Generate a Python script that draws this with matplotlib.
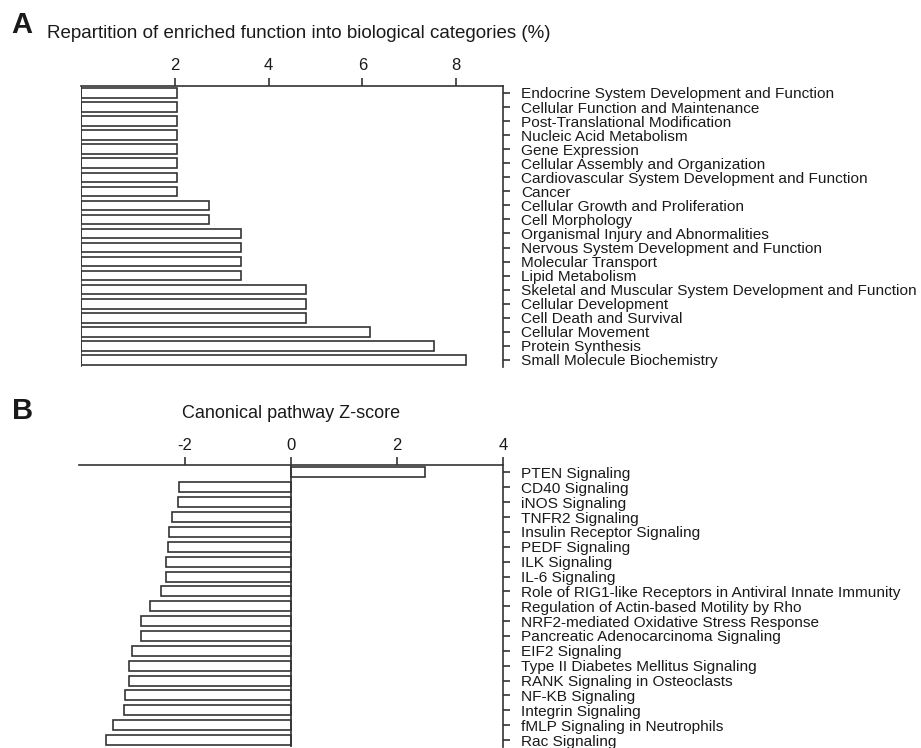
import numpy as np
import matplotlib.pyplot as plt

plt.rcParams['font.family'] = ['Liberation Sans', 'DejaVu Sans']

# ------------------------ data

cat_labels = [
    'Endocrine System Development and Function',
    'Cellular Function and Maintenance',
    'Post-Translational Modification',
    'Nucleic Acid Metabolism',
    'Gene Expression',
    'Cellular Assembly and Organization',
    'Cardiovascular System Development and Function',
    'Cancer',
    'Cellular Growth and Proliferation',
    'Cell Morphology',
    'Organismal Injury and Abnormalities',
    'Nervous System Development and Function',
    'Molecular Transport',
    'Lipid Metabolism',
    'Skeletal and Muscular System Development and Function',
    'Cellular Development',
    'Cell Death and Survival',
    'Cellular Movement',
    'Protein Synthesis',
    'Small Molecule Biochemistry',
]
cat_percent = [2.05, 2.05, 2.05, 2.05, 2.05, 2.05, 2.05, 2.05,
               2.74, 2.74, 3.42, 3.42, 3.42, 3.42,
               4.79, 4.79, 4.79, 6.16, 7.53, 8.22]
cat_ticks = [2, 4, 6, 8]

path_labels = [
    'PTEN Signaling',
    'CD40 Signaling',
    'iNOS Signaling',
    'TNFR2 Signaling',
    'Insulin Receptor Signaling',
    'PEDF Signaling',
    'ILK Signaling',
    'IL-6 Signaling',
    'Role of RIG1-like Receptors in Antiviral Innate Immunity',
    'Regulation of Actin-based Motility by Rho',
    'NRF2-mediated Oxidative Stress Response',
    'Pancreatic Adenocarcinoma Signaling',
    'EIF2 Signaling',
    'Type II Diabetes Mellitus Signaling',
    'RANK Signaling in Osteoclasts',
    'NF-KB Signaling',
    'Integrin Signaling',
    'fMLP Signaling in Neutrophils',
    'Rac Signaling',
]
path_z = [2.53, -2.11, -2.14, -2.24, -2.31, -2.33, -2.36, -2.36, -2.45,
          -2.67, -2.83, -2.84, -3.00, -3.05, -3.05, -3.13, -3.16, -3.36, -3.50]
path_ticks = [-2, 0, 2, 4]

# ------------------------ style

ink = '#333333'
txt = '#1a1a1a'
lw = 1.2


def style_axes(ax, labels, xlim, ticks):
    n = len(labels)
    ax.set_xlim(*xlim)
    ax.set_ylim(n - 0.5, -0.5)
    ax.axvline(0, color=ink, lw=lw, zorder=3)
    for s in ['left', 'bottom']:
        ax.spines[s].set_visible(False)
    for s in ['top', 'right']:
        ax.spines[s].set_color(ink)
        ax.spines[s].set_linewidth(lw)
    ax.xaxis.tick_top()
    ax.set_xticks(ticks)
    ax.set_xticklabels([str(t) for t in ticks])
    ax.tick_params(axis='x', direction='out', length=6, width=lw, color=ink,
                   pad=3, labelsize=12, labelcolor=txt)
    ax.yaxis.tick_right()
    ax.set_yticks(np.arange(n))
    ax.set_yticklabels(labels)
    ax.tick_params(axis='y', direction='out', length=5, width=lw, color=ink,
                   pad=8, labelsize=11.1, labelcolor=txt)


fig = plt.figure(figsize=(9.21, 7.48), dpi=100)

# ------------------------ panel A

axA = fig.add_axes([0.0879, 0.5094, 0.4582, 0.3757])
axA.barh(np.arange(len(cat_labels)), cat_percent, height=0.68,
         color='white', edgecolor=ink, linewidth=lw, zorder=2)
style_axes(axA, cat_labels, (0, 9), cat_ticks)

fig.text(11 / 921, 1 - 25 / 748, 'A', fontsize=21, fontweight='bold',
         va='center', ha='left', color=txt)
fig.text(47 / 921, 1 - 34 / 748,
         'Repartition of enriched function into biological categories (%)',
         fontsize=13.5, va='center', ha='left', color=txt)

# ------------------------ panel B

axB = fig.add_axes([0.0858, 0.0007, 0.4604, 0.3776])
axB.barh(np.arange(len(path_labels)), path_z, height=0.67,
         color='white', edgecolor=ink, linewidth=lw, zorder=2)
style_axes(axB, path_labels, (-4, 4), path_ticks)

fig.text(12 / 921, 1 - 411 / 748, 'B', fontsize=21, fontweight='bold',
         va='center', ha='left', color=txt)
fig.text(291 / 921, 1 - 413 / 748, 'Canonical pathway Z-score',
         fontsize=13, va='center', ha='center', color=txt)

fig.savefig('out.png', dpi=100)
